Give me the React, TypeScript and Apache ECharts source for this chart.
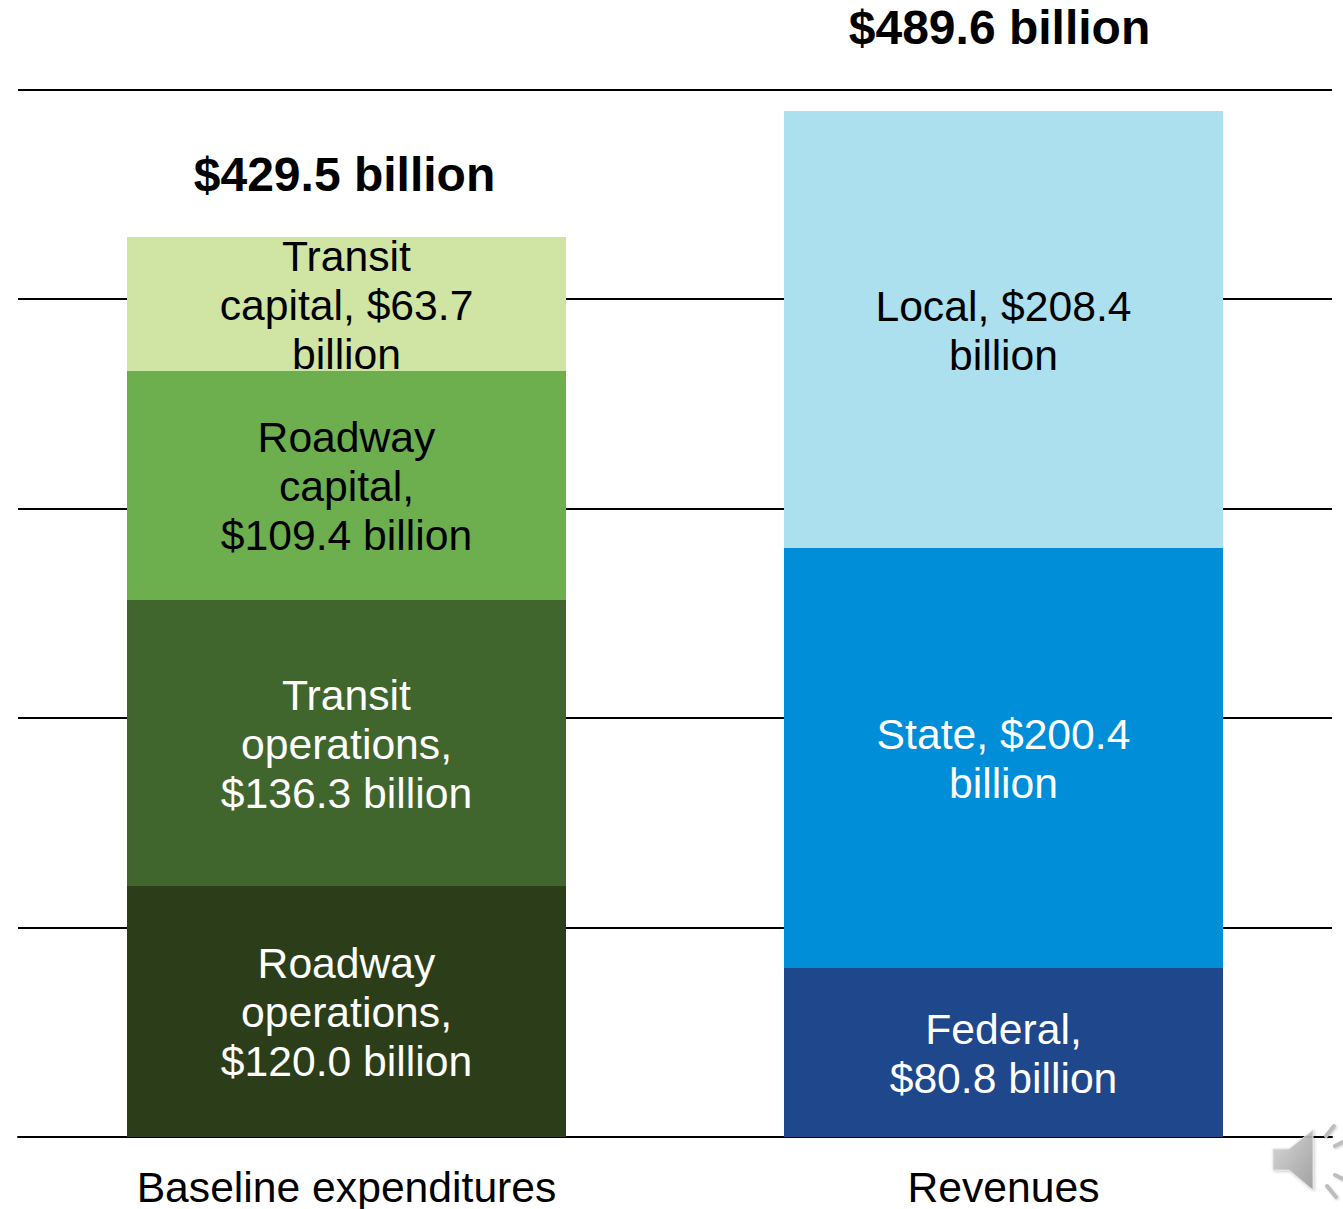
import React, { useEffect, useRef } from "react";
import * as echarts from "echarts";

const categories = ["Baseline expenditures", "Revenues"];
const totals = [429.5, 489.6];
const totalLabels = ["$429.5 billion", "$489.6 billion"];
const roadwayOperations = [120.0, null];
const transitOperations = [136.3, null];
const roadwayCapital = [109.4, null];
const transitCapital = [63.7, null];
const federal = [null, 80.8];
const state = [null, 200.4];
const local = [null, 208.4];
const yTicks = { min: 0, max: 500, interval: 100 };
const barColors = ["#2c3e19", "#40662e", "#6dae4e", "#d0e4a3", "#1f478c", "#008ed8", "#ace0ef"];

const FONT = "'Liberation Sans', Arial, sans-serif";

const segment = (
  name: string,
  data: (number | null)[],
  color: string,
  label: string,
  textColor: string
) => ({
  name,
  type: "bar",
  stack: "total",
  data,
  barWidth: 439,
  itemStyle: { color },
  label: {
    show: true,
    position: "inside",
    formatter: label,
    color: textColor,
    fontFamily: FONT,
    fontSize: 42.67,
    lineHeight: 49,
    align: "center",
    offset: [0, 1],
  },
});

const crispCss = barColors
  .map((c) => `path[fill="${c}"]{shape-rendering:crispEdges}`)
  .join("");

export default function App() {
  const ref = useRef<HTMLDivElement>(null);
  useEffect(() => {
    if (!ref.current) return;
    const chart = echarts.init(ref.current, undefined, { renderer: "svg" });
    const grey = new echarts.graphic.LinearGradient(0, 0, 1, 1, [
      { offset: 0, color: "#d6d6d6" },
      { offset: 1, color: "#9c9c9c" },
    ]);
    const rays = [
      [1326, 1136, 1334, 1126],
      [1335, 1146, 1343, 1142],
      [1337, 1160, 1343, 1160],
      [1335, 1175, 1343, 1179],
      [1327, 1186, 1336, 1197],
    ];
    chart.setOption({
      animation: false,
      backgroundColor: "#ffffff",
      grid: { left: 18, right: 11, top: 89.4, bottom: 72, containLabel: false },
      xAxis: {
        type: "category",
        data: categories,
        axisTick: { show: false },
        axisLine: { show: true, lineStyle: { color: "#000", width: 2 } },
        axisLabel: {
          color: "#000",
          fontFamily: FONT,
          fontSize: 42.67,
          margin: 28,
        },
      },
      yAxis: {
        type: "value",
        ...yTicks,
        axisLabel: { show: false },
        axisLine: { show: false },
        axisTick: { show: false },
        splitLine: { show: true, lineStyle: { color: "#000", width: 2 } },
      },
      series: [
        segment("Roadway operations", roadwayOperations, barColors[0], "Roadway\noperations,\n$120.0 billion", "#ffffff"),
        segment("Transit operations", transitOperations, barColors[1], "Transit\noperations,\n$136.3 billion", "#ffffff"),
        segment("Roadway capital", roadwayCapital, barColors[2], "Roadway\ncapital,\n$109.4 billion", "#000000"),
        segment("Transit capital", transitCapital, barColors[3], "Transit\ncapital, $63.7\nbillion", "#000000"),
        segment("Federal", federal, barColors[4], "Federal,\n$80.8 billion", "#ffffff"),
        segment("State", state, barColors[5], "State, $200.4\nbillion", "#ffffff"),
        segment("Local", local, barColors[6], "Local, $208.4\nbillion", "#000000"),
        {
          name: "Total",
          type: "bar",
          stack: "labels",
          barGap: "-100%",
          barWidth: 439,
          data: totals,
          silent: true,
          z: 5,
          itemStyle: { color: "rgba(0,0,0,0)" },
          label: {
            show: true,
            position: "top",
            distance: 0,
            color: "#000000",
            fontFamily: FONT,
            fontWeight: "bold",
            fontSize: 48,
            formatter: (p: any) => totalLabels[p.dataIndex],
          },
          labelLayout: (p: any) =>
            p.dataIndex === 0 ? { dx: -2, dy: -39 } : { dx: -4, dy: -60 },
        },
      ],
      graphic: [
        {
          type: "polygon",
          silent: true,
          z: 100,
          shape: {
            points: [
              [1273, 1149],
              [1289, 1149],
              [1313, 1130],
              [1313, 1190],
              [1289, 1170],
              [1273, 1170],
            ],
          },
          style: {
            fill: grey,
            opacity: 0.9,
            stroke: "#e2e2e2",
            lineWidth: 1,
            shadowBlur: 3,
            shadowColor: "rgba(0,0,0,0.25)",
            shadowOffsetX: 1,
            shadowOffsetY: 1,
          },
        },
        ...rays.map((r) => ({
          type: "line",
          silent: true,
          z: 100,
          shape: { x1: r[0], y1: r[1], x2: r[2], y2: r[3] },
          style: {
            stroke: "#bdbdbd",
            lineWidth: 4,
            lineCap: "round",
            shadowBlur: 2,
            shadowColor: "rgba(0,0,0,0.2)",
            shadowOffsetX: 1,
            shadowOffsetY: 1,
          },
        })),
      ],
    });
    return () => chart.dispose();
  }, []);
  return (
    <>
      <style>{crispCss}</style>
      <div
        ref={ref}
        style={{ position: "fixed", left: 0, top: 0, width: 1343, height: 1209 }}
      />
    </>
  );
}
